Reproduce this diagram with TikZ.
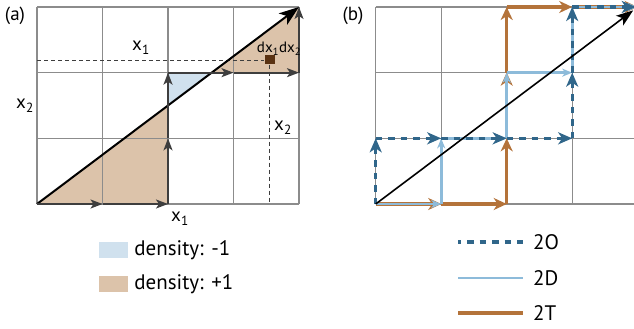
\documentclass[tikz,border=0pt]{standalone}
\usepackage{fontspec}
\setmainfont{PT Sans}
\usetikzlibrary{arrows.meta,calc}
\definecolor{gridc}{HTML}{8C8C8C}
\definecolor{arrc}{HTML}{3E3E3E}
\definecolor{beige}{HTML}{DCC3AA}
\definecolor{lbfill}{HTML}{D0E1EE}
\definecolor{brownsq}{HTML}{5A3212}
\definecolor{orangec}{HTML}{B4733A}
\definecolor{lbline}{HTML}{8DBBDA}
\definecolor{dbline}{HTML}{30668A}
\begin{document}
\begin{tikzpicture}[x=1pt,y=-1pt,
  gridline/.style={draw=gridc,line width=1.3pt},
  edgearrow/.style={draw=arrc,line width=1.8pt,-{Stealth[length=12pt,width=9pt,inset=3pt]}},
  bigdiag/.style={draw=black,line width=2pt,-{Stealth[length=20pt,width=14pt,inset=5pt]}},
  thindiag/.style={draw=black,line width=1.6pt,-{Stealth[length=17pt,width=12pt,inset=4pt]}},
  guide/.style={draw=arrc,line width=0.9pt,dash pattern=on 4pt off 3pt},
  lbl/.style={font=\fontsize{19}{22}\selectfont,inner sep=0pt},
  leglbl/.style={font=\fontsize{21}{24}\selectfont,inner sep=0pt,anchor=west},
  smalllbl/.style={font=\fontsize{15}{18}\selectfont,inner sep=0pt},
  pathT/.style={draw=orangec,line width=3.3pt,-{Stealth[length=13pt,width=12pt,inset=4pt]}},
  pathD/.style={draw=lbline,line width=2.6pt,-{Stealth[length=10pt,width=8pt,inset=3pt]}},
  pathO/.style={draw=dbline,line width=3.3pt,dash pattern=on 6.5pt off 6pt,-{Stealth[length=14pt,width=12pt,inset=4pt]}},
  legbox/.style={minimum width=29pt,minimum height=16pt,inner sep=0pt},
]
\useasboundingbox (0,0) rectangle (634,329);
\clip (0,0) rectangle (634,329);
\foreach \i in {0,...,4}{\foreach \j in {0,...,3}{
  \coordinate (a\i\j) at ({37+65.5*\i},{204-65.67*\j});
  \coordinate (b\i\j) at ({375.7+65.5*\i},{204-65.67*\j});
}}
% ---------- panel (a) ----------
\coordinate (dmid) at ($(a00)!0.5!(a43)$);
\coordinate (dtwo) at ($(a00)!0.6667!(a43)$);
\fill[beige] (a00) -- (a20) -- (dmid) -- cycle;
\fill[lbfill] (dmid) -- (a22) -- (dtwo) -- cycle;
\fill[beige] (dtwo) -- (a42) -- (a43) -- cycle;
\foreach \i in {0,...,4} \draw[gridline] (a\i0) -- (a\i3);
\foreach \j in {0,...,3} \draw[gridline] (a0\j) -- (a4\j);
\node[fill=brownsq,minimum width=10pt,minimum height=9pt,inner sep=0pt] (sq) at (269.5,60) {};
\draw[guide] (a00 |- sq) -- (sq.west);
\draw[guide] (sq.south) -- (sq |- a00);
\draw[bigdiag] (a00) -- (a43);
\draw[edgearrow] (a00) -- (a10);
\draw[edgearrow] (a10) -- (a20);
\draw[edgearrow] (a20) -- (a21);
\draw[edgearrow] (a21) -- (a22);
\draw[edgearrow] (a22) -- (a32);
\draw[edgearrow] (a32) -- (a42);
\draw[edgearrow] (a42) -- (a43);
\node[lbl] (pa) at (15,16) {(a)};
\node[lbl] (x1top) at (141,48) {x\textsubscript{1}};
\node[smalllbl] (dxdx) at (279,49) {dx\textsubscript{1}dx\textsubscript{2}};
\node[lbl] (x2left) at (25,106) {x\textsubscript{2}};
\node[lbl] (x2right) at (283,128) {x\textsubscript{2}};
\node[lbl] (x1bot) at (180,219) {x\textsubscript{1}};
\node[legbox,fill=lbfill] (legneg) at (113.5,250) {};
\node[leglbl] (legnegt) at ($(legneg.east)+(6,0)$) {density: -1};
\node[legbox,fill=beige] (legpos) at (113.5,284) {};
\node[leglbl] (legpost) at ($(legpos.east)+(6,0)$) {density: +1};
% ---------- panel (b) ----------
\foreach \i in {0,...,3} \draw[gridline] (b\i0) -- (b\i3);
\foreach \j in {0,...,3} \draw[gridline] (b0\j) -- (b4\j);
\node[lbl] (pb) at (353,16) {(b)};
% 2T
\draw[pathT] (b00) -- (b10);
\draw[pathT] (b10) -- (b20);
\draw[pathT] (b20) -- (b21);
\draw[pathT] (b21) -- (b22);
\draw[pathT] (b22) -- (b23);
\draw[pathT] (b23) -- (b33);
\draw[pathT] (b33) -- (b43);
% 2D
\draw[pathD] (b00) -- (b10);
\draw[pathD] (b10) -- (b11);
\draw[pathD] (b11) -- (b21);
\draw[pathD] (b21) -- (b22);
\draw[pathD] (b22) -- (b32);
\draw[pathD] (b32) -- (b33);
\draw[pathD] (b33) -- (b43);
% 2O
\draw[pathO] (b00) -- (b01);
\draw[pathO] (b01) -- (b11);
\draw[pathO] (b11) -- (b21);
\draw[pathO] (b21) -- (b31);
\draw[pathO] (b31) -- (b32);
\draw[pathO] (b32) -- (b33);
\draw[pathO] (b33) -- ($(b43)+(-2,0)$);
\coordinate (bend) at ($(b00)!0.983!(b43)$);
\draw[thindiag] (b00) -- (bend);
% legend (b)
\coordinate (lo1) at (458,242); \coordinate (lo2) at (523,242);
\coordinate (ld1) at (458,278); \coordinate (ld2) at (523,278);
\coordinate (lt1) at (458,313); \coordinate (lt2) at (523,313);
\draw[draw=dbline,line width=3.3pt,dash pattern=on 6.5pt off 6pt,dash phase=3.5pt] (lo1) -- (lo2);
\draw[draw=lbline,line width=2.8pt] (ld1) -- (ld2);
\draw[draw=orangec,line width=3.3pt] (lt1) -- (lt2);
\node[leglbl] (lot) at (533,242) {2O};
\node[leglbl] (ldt) at (533,278) {2D};
\node[leglbl] (ltt) at (533,313) {2T};
\end{tikzpicture}
\end{document}
